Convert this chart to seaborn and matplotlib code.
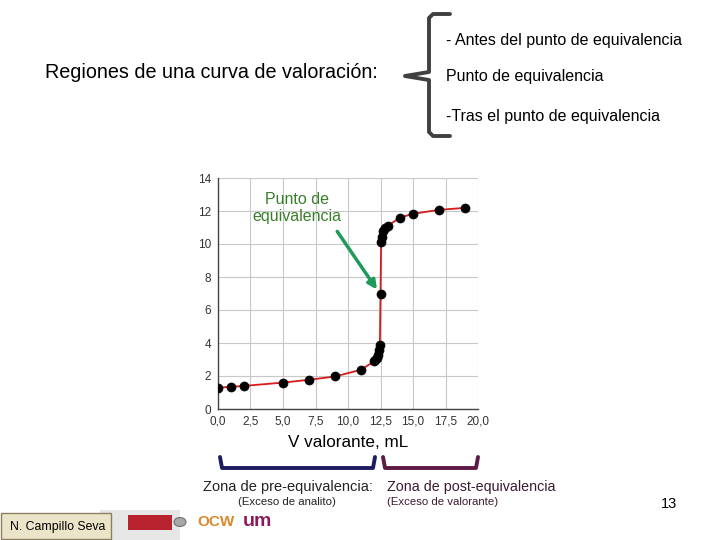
import numpy as np
import pandas as pd
import seaborn as sns
import matplotlib.pyplot as plt
from matplotlib.lines import Line2D
from matplotlib.patches import Rectangle, Circle
from matplotlib.ticker import FuncFormatter

# datos de la curva de valoracion
v_valorante = [0, 1, 2, 5, 7, 9, 11, 12, 12.1, 12.2, 12.3, 12.4, 12.45, 12.5,
               12.55, 12.6, 12.7, 12.85, 13.05, 14, 15, 17, 19]
ph = [1.30, 1.34, 1.40, 1.60, 1.77, 1.97, 2.38, 2.88, 2.97, 3.10, 3.30, 3.55,
      3.85, 7.00, 10.15, 10.45, 10.80, 11.00, 11.10, 11.60, 11.83, 12.07, 12.19]

x_ticks = [0, 2.5, 5, 7.5, 10, 12.5, 15, 17.5, 20]
y_ticks = [0, 2, 4, 6, 8, 10, 12, 14]

regiones = ["- Antes del punto de equivalencia",
            "Punto de equivalencia",
            "-Tras el punto de equivalencia"]

df = pd.DataFrame({"v": v_valorante, "ph": ph})

sns.set_theme(style="white")
plt.rcParams['font.family'] = ['Liberation Sans', 'DejaVu Sans']

fig = plt.figure(figsize=(7.2, 5.4), dpi=100)
fig.patch.set_facecolor("white")


# helper: pixel coords of the slide -> figure fraction
def fp(px, py):
    return px / 720, 1 - py / 540


# the chart
ax = fig.add_axes([218 / 720, 1 - 409 / 540, 260 / 720, 231 / 540])
sns.lineplot(data=df, x="v", y="ph", ax=ax, color="#d91a1a", linewidth=1.3)
sns.scatterplot(data=df, x="v", y="ph", ax=ax, color="black", s=42,
                edgecolor="black", zorder=3)
ax.set_xlim(0, 20)
ax.set_ylim(0, 14)
ax.set_xticks(x_ticks)
ax.set_yticks(y_ticks)
ax.xaxis.set_major_formatter(FuncFormatter(lambda v, p: f"{v:.1f}".replace(".", ",")))
ax.yaxis.set_major_formatter(FuncFormatter(lambda v, p: f"{v:.0f}"))
ax.grid(True, color="#c8c8c8", linewidth=0.8)
ax.set_axisbelow(True)
for s in ["top", "right"]:
    ax.spines[s].set_visible(False)
for s in ["left", "bottom"]:
    ax.spines[s].set_color("#444444")
    ax.spines[s].set_linewidth(1)
ax.tick_params(axis="both", labelsize=8.5, colors="#333333", length=3,
               width=0.8, direction="out", pad=2)
ax.set_xlabel("V valorante, mL", fontsize=12.3, color="black", labelpad=5)
ax.set_ylabel("")

# punto de equivalencia
ax.text(6.1, 12.2, "Punto de\nequivalencia", color="#3a7f2a", fontsize=11.5,
        ha="center", va="center", linespacing=1.15)
ax.annotate("", xy=(12.35, 7.1), xytext=(9.05, 10.9),
            arrowprops=dict(arrowstyle="-|>", color="#1f9a5a", lw=2.5,
                            mutation_scale=13))

# slide texts
fig.text(*fp(45, 73), "Regiones de una curva de valoración:", fontsize=14.2,
         va="center", ha="left", color="black")
for txt, py in zip(regiones, [40, 77, 117]):
    fig.text(*fp(446, py), txt, fontsize=11.5, va="center", ha="left", color="black")

# brace
bx = [450, 433, 429, 429, 405, 429, 429, 433, 450]
by = [14, 14, 18, 72, 76, 80, 132, 136, 136]
fig.add_artist(Line2D([fp(a, b)[0] for a, b in zip(bx, by)],
                      [fp(a, b)[1] for a, b in zip(bx, by)],
                      color="#404040", linewidth=2.8, solid_joinstyle="round",
                      solid_capstyle="round"))

# bottom brackets
for x0, x1, col in [(220, 375, "#1c1c5e"), (383, 478, "#5c1a44")]:
    px = [x0, x0 + 2, x1 - 2, x1]
    py = [457, 468, 468, 457]
    fig.add_artist(Line2D([fp(a, b)[0] for a, b in zip(px, py)],
                          [fp(a, b)[1] for a, b in zip(px, py)],
                          color=col, linewidth=2.8, solid_joinstyle="round"))

fig.text(*fp(288, 487), "Zona de pre-equivalencia:", fontsize=10.5,
         ha="center", va="center", color="#222222")
fig.text(*fp(287, 502), "(Exceso de analito)", fontsize=8.2,
         ha="center", va="center", color="#222222")
fig.text(*fp(387, 487), "Zona de post-equivalencia", fontsize=10.3,
         ha="left", va="center", color="#3a1a30")
fig.text(*fp(387, 502), "(Exceso de valorante)", fontsize=8.2,
         ha="left", va="center", color="#3a1a30")
fig.text(*fp(669, 504), "13", fontsize=10.5, ha="center", va="center", color="black")

# footer: author box and logos
fig.add_artist(Rectangle(fp(100, 540), 80 / 720, 30 / 540, transform=fig.transFigure,
                         facecolor="#e6e6e6", edgecolor="none"))
fig.add_artist(Rectangle(fp(1, 539), 110 / 720, 26 / 540, transform=fig.transFigure,
                         facecolor="#ece4c8", edgecolor="#8a8060", linewidth=1))
fig.text(*fp(10, 527), "N. Campillo Seva", fontsize=8.8, ha="left", va="center",
         color="black")
fig.add_artist(Rectangle(fp(128, 530), 44 / 720, 15 / 540, transform=fig.transFigure,
                         facecolor="#b8222e", edgecolor="none"))
fig.add_artist(Circle(fp(180, 522), 6 / 720, transform=fig.transFigure,
                      facecolor="#a8a8a8", edgecolor="#707070", linewidth=0.8))
fig.text(*fp(197, 522), "OCW", fontsize=11, fontweight="bold", ha="left",
         va="center", color="#d98a2a")
fig.text(*fp(243, 521), "um", fontsize=14, fontweight="bold", ha="left",
         va="center", color="#8a1a5a")

fig.savefig("out.png", dpi=100, facecolor="white")
